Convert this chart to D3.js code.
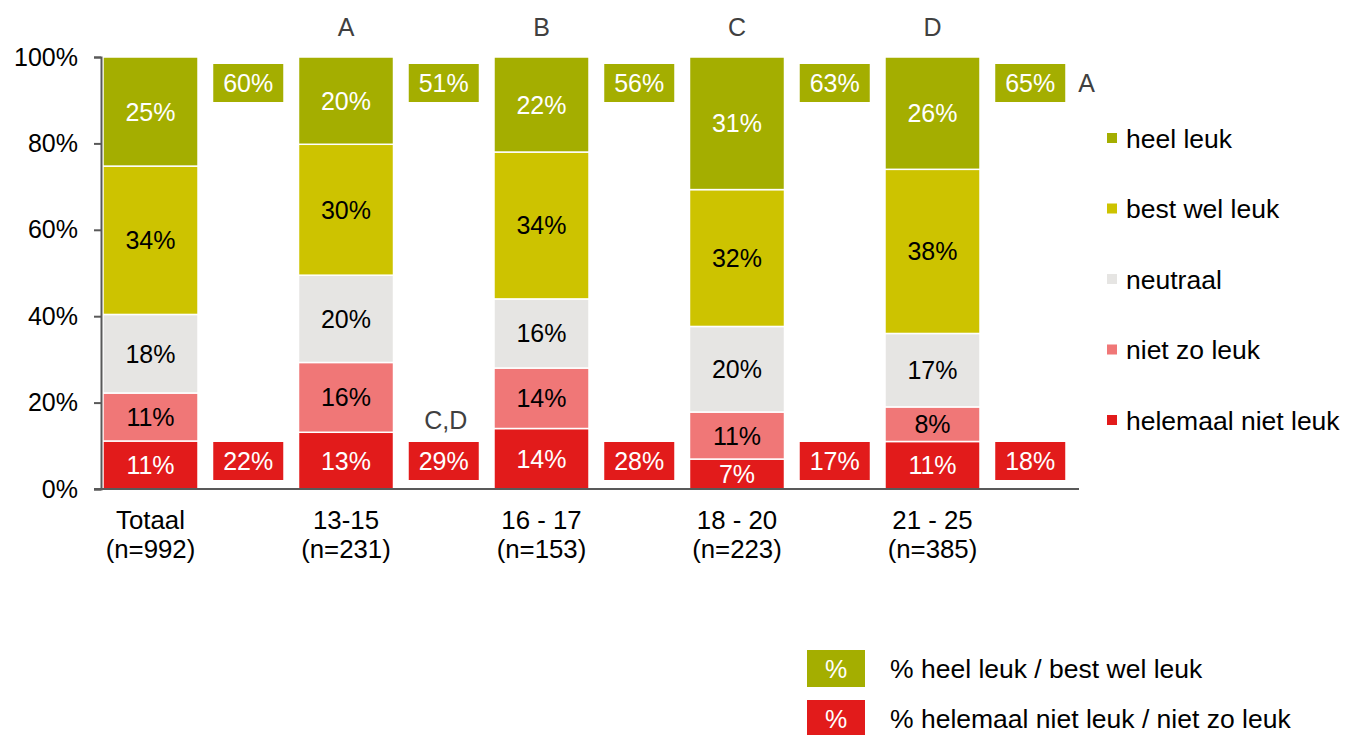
<!DOCTYPE html>
<html><head><meta charset="utf-8">
<script src="https://cdn.jsdelivr.net/npm/d3@7"></script>
<style>
html,body{margin:0;padding:0;background:#fff;}
svg{display:block;font-family:"Liberation Sans",Arial,sans-serif;}
</style></head>
<body>
<svg id="chart" width="1347" height="735"></svg>
<script>
// ---- data ----
const categories = ["Totaal", "13-15", "16 - 17", "18 - 20", "21 - 25"];
const sampleSizes = ["(n=992)", "(n=231)", "(n=153)", "(n=223)", "(n=385)"];
const seriesNames = ["helemaal niet leuk", "niet zo leuk", "neutraal", "best wel leuk", "heel leuk"];
const helemaalNietLeuk = [11, 13, 14, 7, 11];
const nietZoLeuk = [11, 16, 14, 11, 8];
const neutraal = [18, 20, 16, 20, 17];
const bestWelLeuk = [34, 30, 34, 32, 38];
const heelLeuk = [25, 20, 22, 31, 26];
const positiveTotals = [60, 51, 56, 63, 65];
const negativeTotals = [22, 29, 28, 17, 18];
const groupLetters = ["", "A", "B", "C", "D"];
const positiveSig = ["", "", "", "", "A"];
const negativeSig = ["", "C,D", "", "", ""];
const yTicks = [0, 0.2, 0.4, 0.6, 0.8, 1];
const summaryLegend = ["% heel leuk / best wel leuk", "% helemaal niet leuk / niet zo leuk"];

// ---- styles ----
const colors = ["#E21B1B", "#F07777", "#E6E5E3", "#CDC300", "#A4AE00"];
const labelColors = ["#fff", "#000", "#000", "#000", "#fff"];
const posColor = "#A4AE00", negColor = "#E21B1B";
const FS = 25, FS_LEG = 26.5, FS_X = 25.8;

const seriesValues = [helemaalNietLeuk, nietZoLeuk, neutraal, bestWelLeuk, heelLeuk];
const rows = categories.map((c, i) => {
  const r = {cat: c};
  seriesNames.forEach((s, k) => r[s] = seriesValues[k][i]);
  r.total = d3.sum(seriesValues, v => v[i]);
  return r;
});
// normalise each bar to 100%
const normRows = rows.map(r => {
  const o = {cat: r.cat};
  seriesNames.forEach(s => o[s] = r[s] / r.total);
  return o;
});
const stack = d3.stack().keys(seriesNames)(normRows);

const svg = d3.select("#chart");
const x = d3.scaleBand().domain(categories).range([103, 980]).paddingInner(0.514).paddingOuter(0);
const y = d3.scaleLinear().domain([0, 1]).range([489, 57]);
const step = x.step(), bw = x.bandwidth();

// bars
const layers = svg.append("g").selectAll("g").data(stack).join("g")
  .attr("fill", (d, k) => colors[k]);
layers.selectAll("rect").data(d => d).join("rect")
  .attr("x", d => x(d.data.cat))
  .attr("y", d => y(d[1]))
  .attr("width", bw)
  .attr("height", d => y(d[0]) - y(d[1]))
  .attr("stroke", "#fff").attr("stroke-width", 1.5);

// bar labels
stack.forEach((layer, k) => {
  svg.append("g").selectAll("text").data(layer).join("text")
    .attr("x", d => x(d.data.cat) + bw / 2)
    .attr("y", d => (y(d[0]) + y(d[1])) / 2)
    .attr("dy", "0.36em")
    .attr("text-anchor", "middle")
    .attr("font-size", FS)
    .attr("fill", labelColors[k])
    .text((d, i) => seriesValues[k][i] + "%");
});

// axes
const yAxis = d3.axisLeft(y).tickValues(yTicks).tickFormat(d3.format(".0%")).tickSize(7).tickPadding(16);
const gy = svg.append("g").attr("transform", "translate(101,0)").call(yAxis);
gy.select(".domain").attr("stroke", "#595959").attr("stroke-width", 2);
gy.selectAll(".tick line").attr("stroke", "#595959").attr("stroke-width", 2);
gy.selectAll(".tick text").attr("font-size", FS).attr("fill", "#000").attr("font-family", "Liberation Sans, Arial, sans-serif");

svg.append("line").attr("x1", 94).attr("x2", 1079).attr("y1", y(0)).attr("y2", y(0))
  .attr("stroke", "#595959").attr("stroke-width", 2);

// category labels
const xl = svg.append("g").selectAll("text").data(categories).join("text")
  .attr("x", d => x(d) + bw / 2)
  .attr("text-anchor", "middle")
  .attr("font-size", FS_X)
  .attr("fill", "#000");
xl.append("tspan").attr("x", d => x(d) + bw / 2).attr("y", 529).text(d => d);
xl.append("tspan").attr("x", d => x(d) + bw / 2).attr("y", 558).text((d, i) => sampleSizes[i]);

// group letters above bars
svg.append("g").selectAll("text").data(categories).join("text")
  .attr("x", d => x(d) + bw / 2).attr("y", 27).attr("dy", "0.36em")
  .attr("text-anchor", "middle").attr("font-size", FS).attr("fill", "#404040")
  .text((d, i) => groupLetters[i]);

// summary boxes
const bx = d => x(d) + bw / 2 + step / 2;
const boxW = 70, boxH = 38;
const pos = svg.append("g");
pos.selectAll("rect").data(categories).join("rect")
  .attr("x", d => bx(d) - boxW / 2).attr("y", y(1) + 7).attr("width", boxW).attr("height", boxH)
  .attr("fill", posColor);
pos.selectAll("text.v").data(categories).join("text").attr("class", "v")
  .attr("x", d => bx(d)).attr("y", y(1) + 7 + boxH / 2).attr("dy", "0.36em")
  .attr("text-anchor", "middle").attr("font-size", FS).attr("fill", "#fff")
  .text((d, i) => positiveTotals[i] + "%");
pos.selectAll("text.s").data(categories).join("text").attr("class", "s")
  .attr("x", d => bx(d) + boxW / 2 + 13).attr("y", y(1) + 7 + boxH / 2).attr("dy", "0.36em")
  .attr("text-anchor", "start").attr("font-size", FS).attr("fill", "#404040")
  .text((d, i) => positiveSig[i]);

const neg = svg.append("g");
neg.selectAll("rect").data(categories).join("rect")
  .attr("x", d => bx(d) - boxW / 2).attr("y", y(0) - 9 - boxH).attr("width", boxW).attr("height", boxH)
  .attr("fill", negColor);
neg.selectAll("text.v").data(categories).join("text").attr("class", "v")
  .attr("x", d => bx(d)).attr("y", y(0) - 9 - boxH / 2).attr("dy", "0.36em")
  .attr("text-anchor", "middle").attr("font-size", FS).attr("fill", "#fff")
  .text((d, i) => negativeTotals[i] + "%");
neg.selectAll("text.s").data(categories).join("text").attr("class", "s")
  .attr("x", d => bx(d) + 2).attr("y", y(0) - 9 - boxH - 22).attr("dy", "0.36em")
  .attr("text-anchor", "middle").attr("font-size", FS).attr("fill", "#404040")
  .text((d, i) => negativeSig[i]);

// right legend
const legendOrder = seriesNames.slice().reverse();
const lg = svg.append("g").selectAll("g").data(legendOrder).join("g")
  .attr("transform", (d, i) => `translate(1107,${138 + i * 70.5})`);
lg.append("rect").attr("x", 0).attr("y", -5).attr("width", 10).attr("height", 10)
  .attr("fill", d => colors[seriesNames.indexOf(d)]);
lg.append("text").attr("x", 19).attr("y", 0).attr("dy", "0.36em")
  .attr("font-size", FS_LEG).attr("fill", "#000").text(d => d);

// bottom legend
const bl = svg.append("g").selectAll("g").data(summaryLegend).join("g")
  .attr("transform", (d, i) => `translate(807,${650 + i * 50})`);
bl.append("rect").attr("width", 58).attr("height", 37).attr("fill", (d, i) => i === 0 ? posColor : negColor);
bl.append("text").attr("x", 29).attr("y", 18.5).attr("dy", "0.36em").attr("text-anchor", "middle")
  .attr("font-size", FS).attr("fill", "#fff").text("%");
bl.append("text").attr("x", 83).attr("y", 18.5).attr("dy", "0.36em")
  .attr("font-size", FS_LEG).attr("fill", "#000").text(d => d);
</script>
</body></html>
